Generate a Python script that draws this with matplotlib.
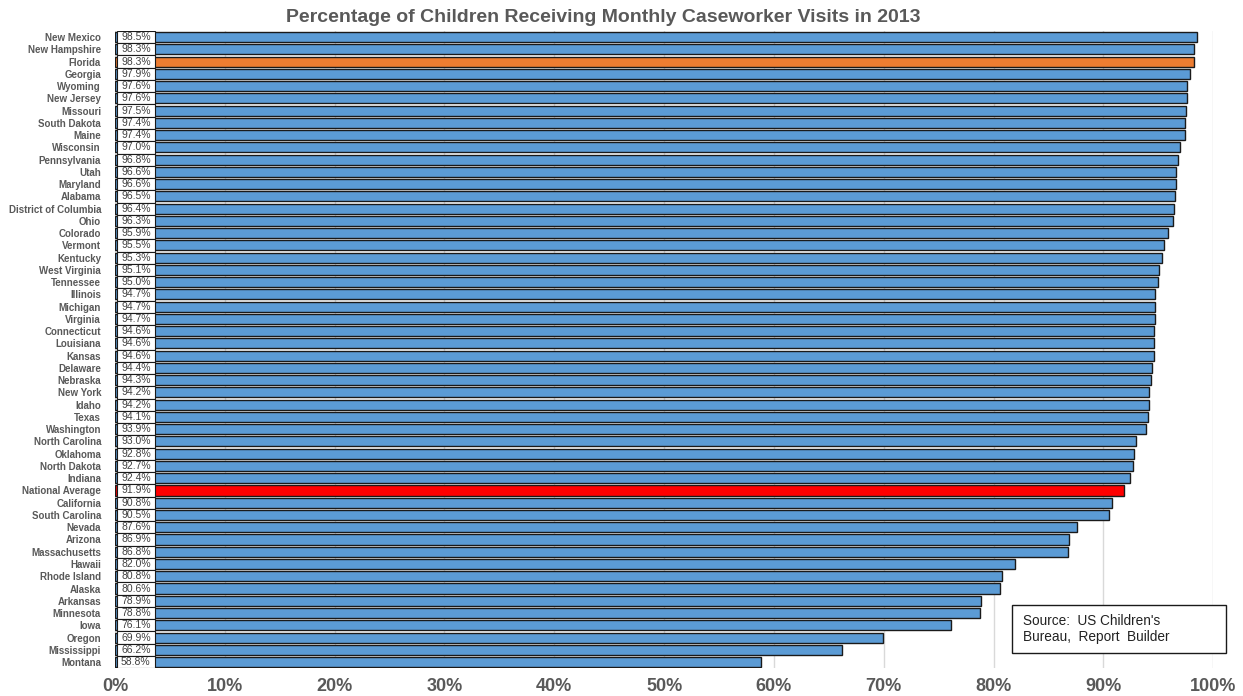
import matplotlib
matplotlib.use("Agg")
import matplotlib.pyplot as plt
from matplotlib.patches import Rectangle

states = [
    "New Mexico", "New Hampshire", "Florida", "Georgia", "Wyoming", "New Jersey",
    "Missouri", "South Dakota", "Maine", "Wisconsin", "Pennsylvania", "Utah",
    "Maryland", "Alabama", "District of Columbia", "Ohio", "Colorado", "Vermont",
    "Kentucky", "West Virginia", "Tennessee", "Illinois", "Michigan", "Virginia",
    "Connecticut", "Louisiana", "Kansas", "Delaware", "Nebraska", "New York",
    "Idaho", "Texas", "Washington", "North Carolina", "Oklahoma", "North Dakota",
    "Indiana", "National Average", "California", "South Carolina", "Nevada",
    "Arizona", "Massachusetts", "Hawaii", "Rhode Island", "Alaska", "Arkansas",
    "Minnesota", "Iowa", "Oregon", "Mississippi", "Montana",
]
pct = [
    98.5, 98.3, 98.3, 97.9, 97.6, 97.6, 97.5, 97.4, 97.4, 97.0, 96.8, 96.6,
    96.6, 96.5, 96.4, 96.3, 95.9, 95.5, 95.3, 95.1, 95.0, 94.7, 94.7, 94.7,
    94.6, 94.6, 94.6, 94.4, 94.3, 94.2, 94.2, 94.1, 93.9, 93.0, 92.8, 92.7,
    92.4, 91.9, 90.8, 90.5, 87.6, 86.9, 86.8, 82.0, 80.8, 80.6, 78.9, 78.8,
    76.1, 69.9, 66.2, 58.8,
]
highlight = {"Florida": "#ED7D31", "National Average": "#FF0000"}
x_ticks = [0, 10, 20, 30, 40, 50, 60, 70, 80, 90, 100]

plt.rcParams["font.family"] = ["Liberation Sans", "DejaVu Sans"]

fig = plt.figure(figsize=(12.43, 6.96), dpi=100)
ax = fig.add_axes([0.0925, 0.040, 0.8835, 0.9155])

n = len(states)
ypos = list(range(n))
colors = [highlight.get(s, "#5B9BD5") for s in states]
ax.barh(ypos, pct, height=0.82, color=colors, edgecolor="#1a1a1a", linewidth=1.0, zorder=2)

# value boxes at the start of each bar
for i, v in enumerate(pct):
    ax.add_patch(Rectangle((0.2, i - 0.5), 3.4, 1.0, facecolor="white",
                           edgecolor="#1a1a1a", linewidth=0.8, zorder=3))
    ax.text(0.55, i, f"{v:.1f}%", ha="left", va="center", fontsize=7.5,
            color="#404040", zorder=4)

ax.set_ylim(n - 0.5, -0.5)
ax.set_xlim(0, 100)
ax.set_yticks(ypos)
ax.set_yticklabels(states, fontsize=7, fontweight="bold", color="#595959")
ax.tick_params(axis="y", length=0, pad=10)
ax.set_xticks(x_ticks)
ax.set_xticklabels([f"{t}%" for t in x_ticks], fontsize=13, fontweight="bold", color="#595959")
ax.tick_params(axis="x", length=0, pad=7)
ax.grid(axis="x", color="#d9d9d9", linewidth=1.0, zorder=0)
for sp in ax.spines.values():
    sp.set_visible(False)

fig.text(0.485, 0.975, "Percentage of Children Receiving Monthly Caseworker Visits in 2013",
         ha="center", va="center", fontsize=14, fontweight="bold", color="#595959")

# source note
fig.patches.append(Rectangle((0.8142, 0.0618), 0.1722, 0.0690, transform=fig.transFigure,
                             facecolor="white", edgecolor="#1a1a1a", linewidth=1.0, zorder=5))
fig.text(0.823, 0.0963, "Source:  US Children's\nBureau,  Report  Builder",
         ha="left", va="center", fontsize=9.8, color="#222222", linespacing=1.25, zorder=6)

fig.savefig("out.png", dpi=100)
